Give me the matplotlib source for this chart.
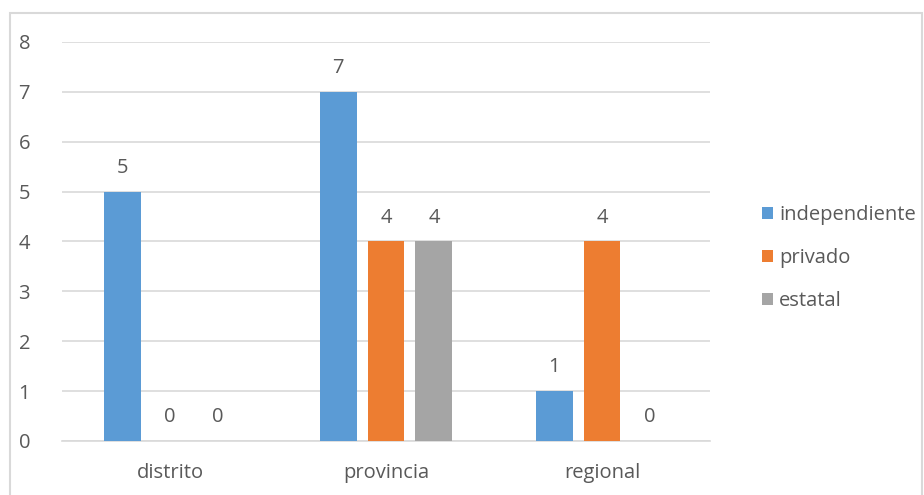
import matplotlib.pyplot as plt
import matplotlib.patches as mpatches
import numpy as np

categories = ['distrito', 'provincia', 'regional']
series_names = ['independiente', 'privado', 'estatal']
independiente = [5, 7, 1]
privado = [0, 4, 4]
estatal = [0, 4, 0]
colors = ['#5b9bd5', '#ed7d31', '#a5a5a5']

plt.rcParams['font.family'] = ['Open Sans', 'DejaVu Sans']
text_color = '#595959'
grid_color = '#d9d9d9'
fs = 14.5

fig = plt.figure(figsize=(9.24, 4.95), dpi=100)
ax = fig.add_axes([0.0671, 0.1091, 0.7013, 0.8061])

# outer chart border
fig.patches.append(mpatches.Rectangle((10 / 924, -0.05), 912 / 924, 1.0237,
                                      transform=fig.transFigure, fill=False,
                                      edgecolor=grid_color, linewidth=1.5))

x = np.arange(len(categories))
width = 0.171
step = 0.222
all_series = [independiente, privado, estatal]
handles = []
for i, (vals, name) in enumerate(zip(all_series, series_names)):
    bars = ax.bar(x + (i - 1) * step, vals, width, color=colors[i], label=name, zorder=3)
    handles.append(bars)
    for xi, v in zip(x + (i - 1) * step, vals):
        ax.text(xi, v + 0.28, str(v), ha='center', va='bottom', fontsize=fs, color=text_color)

ax.set_xlim(-0.5, 2.5)
ax.set_ylim(0, 8)
ax.set_yticks(range(0, 9))
ax.set_xticks(x)
ax.set_xticklabels(categories)
ax.grid(axis='y', color=grid_color, linewidth=1.2, zorder=0)
for s in ['top', 'right', 'left']:
    ax.spines[s].set_visible(False)
ax.spines['bottom'].set_color(grid_color)
ax.spines['bottom'].set_linewidth(1.2)
ax.tick_params(axis='both', length=0, labelsize=fs, colors=text_color)
ax.tick_params(axis='y', pad=23)
ax.tick_params(axis='x', pad=16)

leg = fig.legend(handles=handles, labels=series_names, loc='center left',
                 bbox_to_anchor=(0.805, 0.479), frameon=False, fontsize=fs,
                 handlelength=0.55, handleheight=0.55, handletextpad=0.3,
                 labelspacing=1.15, labelcolor=text_color)

fig.savefig('out.png', dpi=100)
